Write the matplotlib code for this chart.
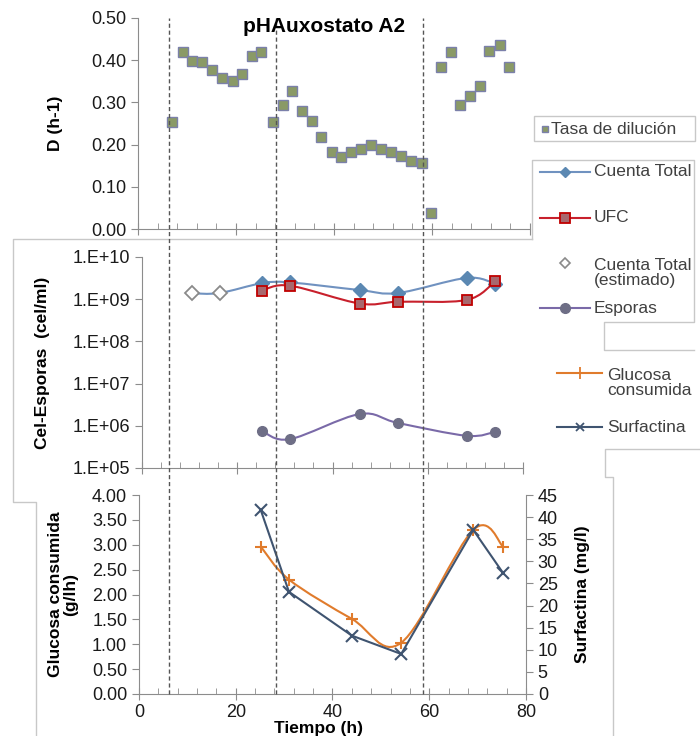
import numpy as np
import matplotlib
matplotlib.use("Agg")
import matplotlib.pyplot as plt
from matplotlib.lines import Line2D
from matplotlib.patches import PathPatch
from matplotlib.path import Path
from matplotlib.ticker import FixedLocator, MultipleLocator, FuncFormatter
from matplotlib.transforms import blended_transform_factory

plt.rcParams['font.family'] = ['Liberation Sans', 'DejaVu Sans']

# --- datos ---
# Tasa de dilucion
t_dil = [7.0, 9.1, 11.0, 13.0, 15.1, 17.1, 19.4, 21.3, 23.3, 25.2, 27.5, 29.5,
         31.4, 33.5, 35.5, 37.4, 39.5, 41.5, 43.4, 45.5, 47.5, 49.6, 51.6, 53.7,
         55.8, 57.9, 59.7, 61.8, 63.8, 65.7, 67.8, 69.8, 71.7, 73.8, 75.8]
d_dil = [0.254, 0.420, 0.398, 0.396, 0.377, 0.358, 0.351, 0.367, 0.410, 0.419,
         0.254, 0.294, 0.327, 0.280, 0.256, 0.218, 0.183, 0.171, 0.183, 0.190,
         0.199, 0.190, 0.183, 0.173, 0.161, 0.156, 0.038, 0.384, 0.420, 0.294,
         0.315, 0.339, 0.422, 0.436, 0.384]

# celulas / esporas
t_est = [10.5, 16.3]
ct_est = [1.38e9, 1.40e9]
t_cel = [25.2, 31.0, 45.7, 53.7, 68.2, 74.2]
ct = [2.4e9, 2.5e9, 1.65e9, 1.4e9, 3.2e9, 2.3e9]
ufc = [1.6e9, 2.1e9, 7.9e8, 8.7e8, 9.6e8, 2.7e9]
esporas = [7.6e5, 4.8e5, 1.9e6, 1.17e6, 5.8e5, 7.2e5]

# glucosa / surfactina
t_glu = [25.2, 31.0, 44.0, 54.2, 69.1, 75.3]
glucosa = [2.96, 2.30, 1.51, 1.03, 3.30, 2.96]
surfactina = [41.5, 23.1, 13.2, 9.05, 37.1, 27.3]

# fases (lineas verticales)
fases = [6.2, 28.3, 58.7]

W, H = 700, 736
fig = plt.figure(figsize=(7.0, 7.36), dpi=100)


def rect(l, t, r, b):
    return [l / W, 1 - b / H, (r - l) / W, (b - t) / H]


def fx(x):
    return x / W


def fy(y):
    return 1 - y / H


def smooth(xs, ys, log=False):
    # curva suavizada tipo Excel (Bezier por Catmull-Rom)
    yy = np.log10(ys) if log else np.asarray(ys, float)
    p = np.column_stack([xs, yy])
    n = len(p)
    verts, codes = [p[0]], [Path.MOVETO]
    for i in range(n - 1):
        p0, p1, p2, p3 = p[max(i - 1, 0)], p[i], p[i + 1], p[min(i + 2, n - 1)]
        verts += [p1 + (p2 - p0) / 6, p2 - (p3 - p1) / 6, p2]
        codes += [Path.CURVE4] * 3
    verts = np.array(verts)
    if log:
        verts[:, 1] = 10 ** verts[:, 1]
    return Path(verts, codes)


AX_C = '#8c8c8c'
TXT = '#1a1a1a'
TICK_FS = 13
LAB_FS = 12.5

# marcos de fondo (graficos superpuestos)
frame_col = '#c8c8c8'
for pts in [[(36, 736), (36, 502), (13, 502), (13, 239), (532, 239)],
            [(532, 239), (532, 160), (694, 160), (694, 322), (604, 322),
             (604, 350), (694, 350)],
            [(700, 449), (605, 449), (605, 477), (613, 477), (613, 736)]]:
    xs, ys = zip(*pts)
    fig.add_artist(Line2D([fx(v) for v in xs], [fy(v) for v in ys],
                          color=frame_col, lw=1))


def style(ax, log=False):
    for s in ['top', 'right']:
        ax.spines[s].set_visible(False)
    for s in ['left', 'bottom']:
        ax.spines[s].set_color(AX_C)
    ax.set_facecolor('none')
    ax.set_xlim(0, 80)
    ax.xaxis.set_major_locator(MultipleLocator(20))
    ax.xaxis.set_minor_locator(MultipleLocator(4))
    ax.tick_params(axis='x', which='major', direction='inout', length=8,
                   color=AX_C, labelsize=TICK_FS, labelcolor=TXT, pad=3)
    ax.tick_params(axis='x', which='minor', direction='in', length=4, color=AX_C)
    ax.tick_params(axis='y', which='major', direction='out', length=5,
                   color=AX_C, labelsize=TICK_FS, labelcolor=TXT)


# --- panel superior ---
ax1 = fig.add_axes(rect(138, 18, 530, 229))
style(ax1)
ax1.set_ylim(0, 0.5)
ax1.yaxis.set_major_locator(MultipleLocator(0.1))
ax1.yaxis.set_major_formatter(FuncFormatter(lambda v, p: f"{v:.2f}"))
ax1.tick_params(axis='x', labelbottom=False)
ax1.plot(t_dil, d_dil, ls='none', marker='s', ms=6.5, mfc='#8a9a66',
         mec='#7b80aa', mew=1.0, clip_on=False)
ax1.set_ylabel('D (h-1)', fontsize=LAB_FS, fontweight='bold', labelpad=20)
fig.text(fx(324), fy(26), 'pHAuxostato A2', fontsize=15, fontweight='bold',
         ha='center', va='center', color='black')

# --- panel medio (log) ---
ax2 = fig.add_axes(rect(142, 257, 523, 468))
style(ax2)
ax2.set_yscale('log')
ax2.set_ylim(1e5, 1e10)
ax2.yaxis.set_major_locator(FixedLocator([1e5, 1e6, 1e7, 1e8, 1e9, 1e10]))
ax2.yaxis.set_major_formatter(FuncFormatter(lambda v, p: "1.E+%02d" % round(np.log10(v))))
ax2.tick_params(axis='y', which='minor', direction='in', length=3, color=AX_C)
ax2.tick_params(axis='x', labelbottom=False)
ax2.set_ylabel('Cel-Esporas  (cel/ml)', fontsize=LAB_FS, fontweight='bold', labelpad=16)

c_ct, c_ufc, c_esp = '#7092c0', '#c8202c', '#7a6aa8'
ax2.add_patch(PathPatch(smooth(t_est + t_cel, ct_est + ct, log=True), fill=False,
                        ec=c_ct, lw=1.5))
ax2.plot(t_est, ct_est, ls='none', marker='D', ms=7, mfc='white', mec='#8a8a8a', mew=1.3)
ax2.plot(t_cel, ct, ls='none', marker='D', ms=7, mfc='#5b88b2', mec='#5b88b2')
ax2.add_patch(PathPatch(smooth(t_cel, ufc, log=True), fill=False, ec=c_ufc, lw=1.5))
ax2.plot(t_cel, ufc, ls='none', marker='s', ms=6.5, mfc='#a8686e', mec='#c00000', mew=1.3)
ax2.add_patch(PathPatch(smooth(t_cel, esporas, log=True), fill=False, ec=c_esp, lw=1.5))
ax2.plot(t_cel, esporas, ls='none', marker='o', ms=7, mfc='#6e6e86', mec='#6e6e86')

# --- panel inferior ---
ax3 = fig.add_axes(rect(139, 495, 526, 694))
style(ax3)
ax3.set_ylim(0, 4)
ax3.yaxis.set_major_locator(MultipleLocator(0.5))
ax3.yaxis.set_major_formatter(FuncFormatter(lambda v, p: f"{v:.2f}"))
ax3.set_ylabel('Glucosa consumida\n(g/lh)', fontsize=LAB_FS, fontweight='bold',
               labelpad=10, linespacing=1.0)
fig.text(fx(318), fy(728), 'Tiempo (h)', fontsize=LAB_FS, fontweight='bold',
         ha='center', va='center', color='black')
c_glu, c_sur = '#e07b2c', '#3f5470'
ax3.add_patch(PathPatch(smooth(t_glu, glucosa), fill=False, ec=c_glu, lw=1.5))
ax3.plot(t_glu, glucosa, ls='none', marker='+', ms=8, mew=1.5, color=c_glu)

ax4 = ax3.twinx()
ax4.set_ylim(0, 45)
ax4.yaxis.set_major_locator(MultipleLocator(5))
for s in ['top', 'left', 'bottom']:
    ax4.spines[s].set_visible(False)
ax4.spines['right'].set_color(AX_C)
ax4.tick_params(axis='y', direction='out', length=5, color=AX_C, labelsize=TICK_FS,
                labelcolor=TXT)
ax4.set_ylabel('Surfactina (mg/l)', fontsize=LAB_FS, fontweight='bold', labelpad=12)
ax4.plot(t_glu, surfactina, color=c_sur, lw=1.5, marker='x', ms=8, mew=1.5)

# lineas verticales de fase
tr = blended_transform_factory(ax3.transData, fig.transFigure)
for xv in fases:
    fig.add_artist(Line2D([xv, xv], [fy(694), fy(18)], transform=tr,
                          color='#555555', lw=1.0, ls=(0, (3, 2))))

# --- leyendas ---
LEG = '#404040'
LEG_FS = 12.5
fig.add_artist(plt.Rectangle((fx(534), fy(141)), fx(695) - fx(534), fy(116) - fy(141),
                             transform=fig.transFigure, fill=False, ec=frame_col, lw=1))
fig.add_artist(Line2D([fx(545)], [fy(129)], marker='s', ms=5, mfc='#8a9a66',
                      mec='#7b80aa', ls='none'))
fig.text(fx(551), fy(129), 'Tasa de dilución', fontsize=LEG_FS, color=LEG, va='center')


def leg_entry(y, x0, x1, tx, label, color, marker, mfc, mec, ms, mew=1.0, line=True):
    if line:
        fig.add_artist(Line2D([fx(x0), fx(x1)], [fy(y), fy(y)], color=color, lw=1.5))
    fig.add_artist(Line2D([fx((x0 + x1) / 2)], [fy(y)], marker=marker, ms=ms,
                          mfc=mfc, mec=mec, mew=mew, ls='none'))
    fig.text(fx(tx), fy(y), label, fontsize=LEG_FS, color=LEG, va='center',
             linespacing=1.0)


leg_entry(172, 540, 590, 594, 'Cuenta Total', c_ct, 'D', '#5b88b2', '#5b88b2', 5)
leg_entry(218, 540, 590, 594, 'UFC', c_ufc, 's', '#a8686e', '#c00000', 7, 1.3)
leg_entry(263, 540, 590, 594, '', c_ct, 'D', 'white', '#8a8a8a', 5, 1.2, line=False)
fig.text(fx(594), fy(273), 'Cuenta Total\n(estimado)', fontsize=LEG_FS, color=LEG,
         va='center', linespacing=1.0)
leg_entry(308, 540, 590, 594, 'Esporas', c_esp, 'o', '#6e6e86', '#6e6e86', 7)
leg_entry(373, 557, 602, 607, '', c_glu, '+', c_glu, c_glu, 8, 1.3)
fig.text(fx(607), fy(383), 'Glucosa\nconsumida', fontsize=LEG_FS, color=LEG,
         va='center', linespacing=1.0)
leg_entry(427, 557, 602, 607, 'Surfactina', c_sur, 'x', c_sur, c_sur, 6, 1.3)

fig.savefig('out.png', dpi=100)
